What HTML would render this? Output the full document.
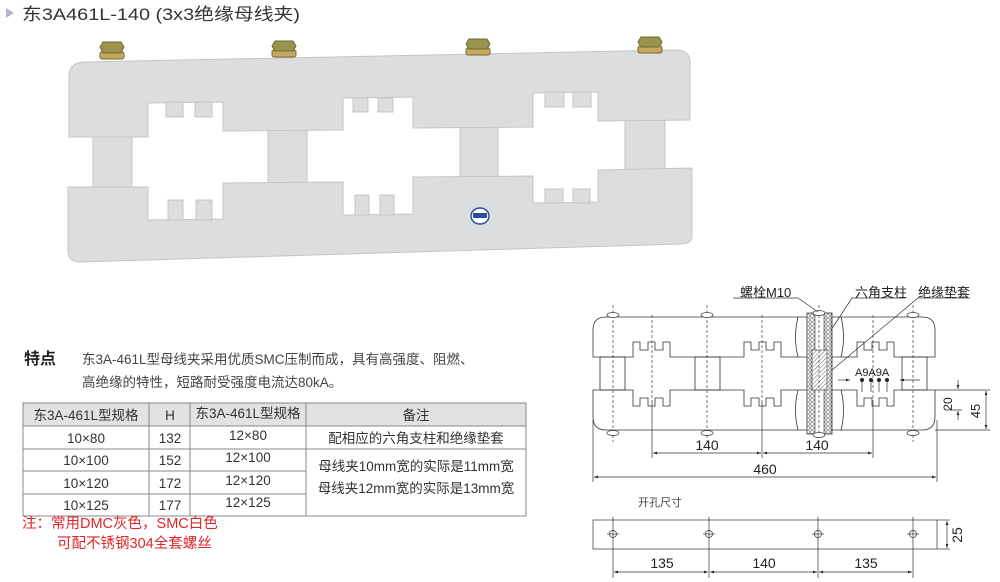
<!DOCTYPE html>
<html><head><meta charset="utf-8"><style>
body{margin:0;background:#fff;width:1000px;height:582px;overflow:hidden;font-family:"Liberation Sans","Noto Sans CJK SC",sans-serif}
svg{position:absolute;left:0;top:0}
text{font-family:"Liberation Sans","Noto Sans CJK SC",sans-serif}
</style></head><body>
<svg width="1000" height="582" viewBox="0 0 1000 582">
<defs>
<pattern id="hx" width="4" height="4" patternUnits="userSpaceOnUse"><rect width="4" height="4" fill="#fff"/><circle cx="2" cy="2" r="1.3" fill="none" stroke="#555" stroke-width="0.6"/></pattern>
<pattern id="hl" width="3" height="3" patternUnits="userSpaceOnUse" patternTransform="rotate(45)"><rect width="3" height="3" fill="#fff"/><line x1="0" y1="0" x2="0" y2="3" stroke="#444" stroke-width="0.8"/></pattern>
<marker id="a" markerWidth="6" markerHeight="6" refX="6" refY="3" orient="auto-start-reverse"><path d="M0,1 L6,3 L0,5z" fill="#222"/></marker>
</defs>
<path d="M6,8 L14,13 L6,18z" fill="#b9b0d6"/>
<text x="22" y="20" font-size="17" fill="#333" textLength="278" lengthAdjust="spacingAndGlyphs">东3A461L-140 (3x3绝缘母线夹)</text>

<g fill="#dcdddf" stroke="#c4c5c7" stroke-width="1">
<rect x="93" y="128" width="39" height="62"/>
<rect x="268" y="124" width="39" height="62"/>
<rect x="460" y="120" width="38" height="60"/>
<rect x="625" y="114" width="40" height="58"/>
<path d="M69,137 L69,75 Q70,62 85,62 L675,50 Q690,50 690,62 L690,120 L598,121 L598,92 L533,93 L533,127 L413,128 L413,97 L343,98 L343,130 L223,131 L223,102 L148,103 L148,137 Z"/>
<path d="M68,187 L148,187 L148,220 L223,219 L223,183 L343,182 L343,215 L413,214 L413,177 L533,176 L533,203 L598,202 L598,170 L692,168 L692,236 Q692,244 680,244 L80,262 Q68,262 68,250 Z"/>
<rect x="166" y="102" width="17" height="15"/><rect x="195" y="102" width="17" height="15"/>
<rect x="353" y="98" width="15" height="14"/><rect x="378" y="98" width="15" height="14"/>
<rect x="545" y="92" width="19" height="15"/><rect x="573" y="92" width="18" height="15"/>
<rect x="168" y="200" width="15" height="20"/><rect x="196" y="200" width="16" height="20"/>
<rect x="355" y="195" width="14" height="20"/><rect x="380" y="195" width="14" height="20"/>
<rect x="545" y="189" width="18" height="14"/><rect x="573" y="189" width="17" height="14"/>
</g>
<g fill="#9a9450" stroke="#6e6a30" stroke-width="1">
<rect x="100" y="52" width="24" height="7" rx="2" fill="#c8a860"/><path d="M103,42 L121,42 L124,47 L121,53 L103,53 L100,47z"/>
<rect x="272" y="50" width="24" height="7" rx="2" fill="#c8a860"/><path d="M275,41 L293,41 L296,46 L293,51 L275,51 L272,46z"/>
<rect x="466" y="48" width="24" height="7" rx="2" fill="#c8a860"/><path d="M469,39 L487,39 L490,44 L487,49 L469,49 L466,44z"/>
<rect x="638" y="46" width="24" height="7" rx="2" fill="#c8a860"/><path d="M641,37 L659,37 L662,42 L659,47 L641,47 L638,42z"/>
</g>
<ellipse cx="480" cy="216" rx="9" ry="8" fill="#fff" stroke="#2a4ea0" stroke-width="1.5"/><rect x="473" y="213" width="14" height="5" fill="#2a4ea0"/>

<text x="24" y="364" font-size="16" font-weight="bold" fill="#222">特点</text>
<text x="82" y="364" font-size="13.5" fill="#444">东3A-461L型母线夹采用优质SMC压制而成，具有高强度、阻燃、</text>
<text x="82" y="387" font-size="13.5" fill="#444">高绝缘的特性，短路耐受强度电流达80kA。</text>

<rect x="23" y="403" width="503" height="23" fill="#e2e2e2"/>
<g stroke="#888" stroke-width="1" fill="none">
<rect x="23" y="403" width="503" height="113"/>
<line x1="149" y1="403" x2="149" y2="516"/><line x1="190" y1="403" x2="190" y2="516"/><line x1="306" y1="403" x2="306" y2="516"/>
<line x1="23" y1="426" x2="526" y2="426"/><line x1="23" y1="449" x2="526" y2="449"/>
<line x1="23" y1="471" x2="306" y2="471"/><line x1="23" y1="494" x2="306" y2="494"/>
</g>
<g font-size="13.5" fill="#333" text-anchor="middle">
<text x="86" y="420">东3A-461L型规格</text><text x="170" y="420">H</text><text x="248" y="418">东3A-461L型规格</text><text x="416" y="420">备注</text>
<text x="86" y="443">10×80</text><text x="170" y="443">132</text><text x="248" y="440">12×80</text><text x="416" y="443">配相应的六角支柱和绝缘垫套</text>
<text x="86" y="465">10×100</text><text x="170" y="465">152</text><text x="248" y="462">12×100</text>
<text x="86" y="488">10×120</text><text x="170" y="488">172</text><text x="248" y="485">12×120</text>
<text x="86" y="510">10×125</text><text x="170" y="510">177</text><text x="248" y="507">12×125</text>
<text x="416" y="471">母线夹10mm宽的实际是11mm宽</text>
<text x="416" y="493">母线夹12mm宽的实际是13mm宽</text>
</g>
<text x="22" y="528" font-size="14.5" fill="#e0262a">注：常用DMC灰色，SMC白色</text>
<text x="57" y="548" font-size="14.5" fill="#e0262a">可配不锈钢304全套螺丝</text>

<g stroke="#333" stroke-width="0.8" fill="none">
<path d="M593,330 Q593,317 606,317 L922,317 Q935,317 935,330 L935,357 L894,357 L894,342 L887,342 L887,350 L879,350 L879,342 L872,342 L872,350 L864,350 L864,342 L857,342 L857,357 L781,357 L781,342 L774,342 L774,350 L766,350 L766,342 L759,342 L759,350 L751,350 L751,342 L744,342 L744,357 L670,357 L670,342 L663,342 L663,350 L655,350 L655,342 L648,342 L648,350 L640,350 L640,342 L633,342 L633,357 L593,357 Z"/>
<path d="M593,390 L633,390 L633,406 L640,406 L640,398 L648,398 L648,406 L655,406 L655,398 L663,398 L663,406 L670,406 L670,390 L744,390 L744,406 L751,406 L751,398 L759,398 L759,406 L766,406 L766,398 L774,398 L774,406 L781,406 L781,390 L857,390 L857,406 L864,406 L864,398 L872,398 L872,406 L879,406 L879,398 L887,398 L887,406 L894,406 L894,390 L935,390 L935,417 Q935,430 922,430 L606,430 Q593,430 593,417 Z"/>
<rect x="600" y="357" width="25" height="33"/><rect x="695" y="357" width="25" height="33"/><rect x="902" y="357" width="25" height="33"/>
<path d="M798,317 Q793,337 798,357 M841,317 Q846,337 841,357 M798,390 Q793,410 798,430 M841,390 Q846,410 841,430"/>
</g>
<rect x="807" y="313" width="25" height="121" fill="url(#hx)" stroke="#333" stroke-width="0.8"/>
<rect x="815" y="313" width="9" height="121" fill="#fff" stroke="#333" stroke-width="0.6"/>
<rect x="812" y="350" width="15" height="40" fill="url(#hl)" stroke="#333" stroke-width="0.6"/>
<g stroke="#444" stroke-width="0.7" stroke-dasharray="3,2">
<line x1="613" y1="305" x2="613" y2="442"/><line x1="707" y1="305" x2="707" y2="442"/><line x1="913" y1="305" x2="913" y2="442"/><line x1="819" y1="305" x2="819" y2="442"/>
<line x1="652" y1="315" x2="652" y2="400"/><line x1="762" y1="315" x2="762" y2="400"/><line x1="873" y1="315" x2="873" y2="400"/>
</g>
<g fill="#fff" stroke="#333" stroke-width="0.7">
<ellipse cx="613" cy="315" rx="6" ry="2.5"/><ellipse cx="707" cy="315" rx="6" ry="2.5"/><ellipse cx="819" cy="313" rx="6" ry="2.5"/><ellipse cx="913" cy="315" rx="6" ry="2.5"/>
<ellipse cx="613" cy="433" rx="6" ry="2.5"/><ellipse cx="707" cy="433" rx="6" ry="2.5"/><ellipse cx="819" cy="435" rx="6" ry="2.5"/><ellipse cx="913" cy="433" rx="6" ry="2.5"/>
</g>
<g stroke="#333" stroke-width="0.7" fill="none">
<polyline points="733,298 798,298 818,312"/>
<polyline points="905,298 852,298 831,330"/>
<polyline points="970,298 918,298 832,370"/>
<line x1="652" y1="400" x2="652" y2="458"/><line x1="762" y1="400" x2="762" y2="458"/><line x1="873" y1="400" x2="873" y2="458"/>
<line x1="593" y1="420" x2="593" y2="482"/><line x1="937" y1="420" x2="937" y2="482"/>
<line x1="653" y1="453" x2="761" y2="453" marker-start="url(#a)" marker-end="url(#a)"/>
<line x1="763" y1="453" x2="872" y2="453" marker-start="url(#a)" marker-end="url(#a)"/>
<line x1="594" y1="477" x2="936" y2="477" marker-start="url(#a)" marker-end="url(#a)"/>
<line x1="935" y1="390" x2="990" y2="390"/><line x1="935" y1="430" x2="990" y2="430"/><line x1="945" y1="410" x2="962" y2="410"/>
<line x1="958" y1="380" x2="958" y2="389" marker-end="url(#a)"/><line x1="958" y1="420" x2="958" y2="411" marker-end="url(#a)"/>
<line x1="986" y1="391" x2="986" y2="429" marker-start="url(#a)" marker-end="url(#a)"/>
<line x1="838" y1="380" x2="850" y2="380" marker-end="url(#a)"/><line x1="920" y1="380" x2="900" y2="380" marker-end="url(#a)"/>
<line x1="862" y1="380" x2="862" y2="392"/><line x1="871" y1="380" x2="871" y2="392"/><line x1="879" y1="380" x2="879" y2="392"/><line x1="887" y1="380" x2="887" y2="392"/>
</g>
<g fill="#222"><circle cx="862" cy="380" r="2"/><circle cx="871" cy="380" r="2"/><circle cx="879" cy="380" r="2"/><circle cx="887" cy="380" r="2"/></g>
<g font-size="13" fill="#222">
<text x="740" y="297">螺栓M10</text><text x="855" y="297">六角支柱</text><text x="918" y="297">绝缘垫套</text>
<text x="855" y="376" font-size="11">A9A9A</text>
<text x="707" y="450" font-size="14" text-anchor="middle">140</text><text x="817" y="450" font-size="14" text-anchor="middle">140</text>
<text x="765" y="474" font-size="14" text-anchor="middle">460</text>
<text x="952" y="404" font-size="12" transform="rotate(-90 952 404)" text-anchor="middle">20</text>
<text x="980" y="411" font-size="13" transform="rotate(-90 980 411)" text-anchor="middle">45</text>
</g>
<text x="638" y="506" font-size="11" fill="#444">开孔尺寸</text>
<g stroke="#333" stroke-width="0.7" fill="none">
<rect x="593" y="520" width="344" height="29"/>
<line x1="613" y1="517" x2="613" y2="578"/><line x1="709" y1="517" x2="709" y2="578"/><line x1="818" y1="517" x2="818" y2="578"/><line x1="913" y1="517" x2="913" y2="578"/>
<circle cx="613" cy="534" r="3.5"/><circle cx="709" cy="534" r="3.5"/><circle cx="818" cy="534" r="3.5"/><circle cx="913" cy="534" r="3.5"/>
<line x1="607" y1="534" x2="619" y2="534"/><line x1="703" y1="534" x2="715" y2="534"/><line x1="812" y1="534" x2="824" y2="534"/><line x1="907" y1="534" x2="919" y2="534"/>
<line x1="614" y1="572" x2="708" y2="572" marker-start="url(#a)" marker-end="url(#a)"/>
<line x1="710" y1="572" x2="817" y2="572" marker-start="url(#a)" marker-end="url(#a)"/>
<line x1="819" y1="572" x2="912" y2="572" marker-start="url(#a)" marker-end="url(#a)"/>
<line x1="937" y1="520" x2="950" y2="520"/><line x1="937" y1="549" x2="950" y2="549"/>
<line x1="947" y1="521" x2="947" y2="548" marker-start="url(#a)" marker-end="url(#a)"/>
</g>
<g font-size="14" fill="#222" text-anchor="middle">
<text x="662" y="568">135</text><text x="764" y="568">140</text><text x="866" y="568">135</text>
<text x="962" y="535" transform="rotate(-90 962 535)">25</text>
</g>
</svg>
</body></html>
